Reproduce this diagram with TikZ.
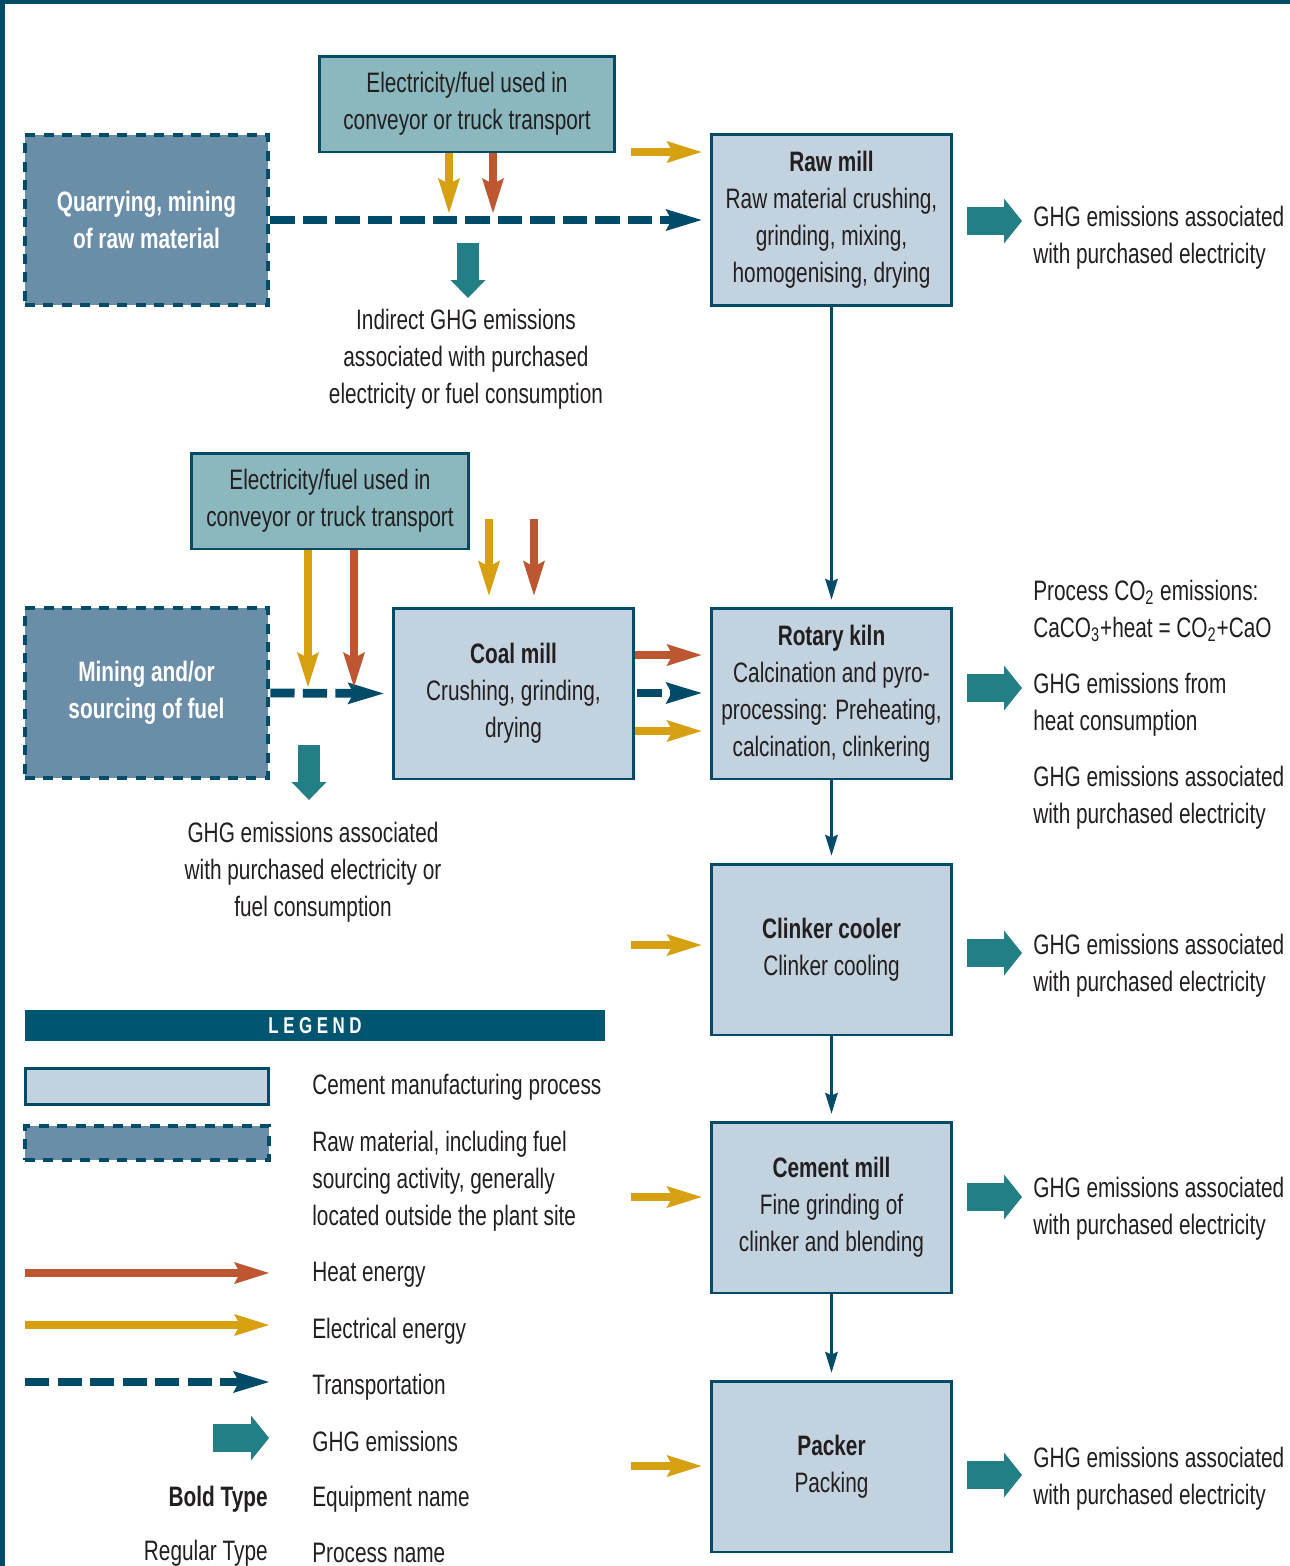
\documentclass[tikz,border=0pt]{standalone}
\usepackage{fontspec}
\setmainfont[FakeStretch=0.74]{Liberation Sans}
\usetikzlibrary{arrows.meta}

\definecolor{dkblue}{HTML}{004B68}
\definecolor{legblue}{HTML}{005570}
\definecolor{procfill}{HTML}{C2D2DF}
\definecolor{rawfill}{HTML}{6A8EA8}
\definecolor{fuelfill}{HTML}{8BB8BE}
\definecolor{ghgteal}{HTML}{227F85}
\definecolor{elecyel}{HTML}{D6A010}
\definecolor{heatred}{HTML}{BD5631}
\definecolor{txtdark}{HTML}{231F20}

\tikzset{
  procbox/.style={draw=dkblue, fill=procfill, line width=1.7pt, minimum width=4.82cm, minimum height=3.42cm, align=center, inner sep=0pt},
  rawbox/.style={draw=dkblue, fill=rawfill, line width=2.8pt, dash pattern=on 5.7pt off 4.8pt, minimum width=4.86cm, minimum height=3.4cm, align=center, inner sep=0pt, text=white, font={\fontsize{16}{21}\selectfont\bfseries}},
  fuelbox/.style={draw=dkblue, fill=fuelfill, line width=1.7pt, minimum height=1.92cm, align=center, inner sep=0pt},
  sidetxt/.style={anchor=west, align=left, inner sep=0pt},
  freetxt/.style={align=center, inner sep=0pt},
  heatarr/.style={draw=heatred, line width=4.8pt, -{Stealth[length=0.7cm, width=0.44cm, inset=0.12cm, line width=0pt]}},
  elecarr/.style={draw=elecyel, line width=4.8pt, -{Stealth[length=0.7cm, width=0.44cm, inset=0.12cm, line width=0pt]}},
  transarr/.style={draw=dkblue, line width=5pt, dash pattern=on 13.7pt off 4.8pt, -{Stealth[length=0.72cm, width=0.44cm, inset=0.12cm, line width=0pt]}},
  flowarr/.style={draw=dkblue, line width=1.2pt, -{Stealth[length=0.42cm, width=0.26cm, inset=0.06cm, line width=0pt]}},
  ghgarr/.style={draw=ghgteal, line width=0.56cm, -{Triangle[length=0.36cm, width=0.9cm, line width=0pt]}},
  ghgsmall/.style={draw=ghgteal, line width=0.44cm, -{Triangle[length=0.36cm, width=0.7cm, line width=0pt]}}
}

\begin{document}
\begin{tikzpicture}[x=0.02cm, y=-0.02cm, font=\fontsize{16}{21}\selectfont, text=txtdark]
\useasboundingbox (0,0) rectangle (1290,1566);
% frame
\draw[draw=dkblue, line width=2.8pt] (2.5,1566) -- (2.5,2) -- (1290,2);

% sourcing boxes
\node[rawbox] (quarry) at (146.5,220) {Quarrying, mining\\of raw material};
\node[rawbox] (mining) at (146.5,693) {Mining and/or\\sourcing of fuel};
\node[fuelbox, minimum width=5.92cm] (fuelA) at (467,104) {Electricity/fuel used in\\conveyor or truck transport};
\node[fuelbox, minimum width=5.56cm] (fuelB) at (330,501) {Electricity/fuel used in\\conveyor or truck transport};

% process boxes
\node[procbox] (rawmill) at (831.5,220) {\textbf{Raw mill}\\Raw material crushing,\\grinding, mixing,\\homogenising, drying};
\node[procbox] (coalmill) at (513.5,693.5) {\textbf{Coal mill}\\Crushing, grinding,\\drying};
\node[procbox] (kiln) at (831.5,693.5) {\textbf{Rotary kiln}\\Calcination and pyro-\\processing: Preheating,\\calcination, clinkering};
\node[procbox] (cooler) at (831.5,949.5) {\textbf{Clinker cooler}\\Clinker cooling};
\node[procbox] (cemmill) at (831.5,1207.5) {\textbf{Cement mill}\\Fine grinding of\\clinker and blending};
\node[procbox] (packer) at (831.5,1466.5) {\textbf{Packer}\\Packing};

% emission texts
\node[freetxt] (indA) at (466,359) {Indirect GHG emissions\\associated with purchased\\electricity or fuel consumption};
\node[freetxt] (indB) at (313,872) {GHG emissions associated\\with purchased electricity or\\fuel consumption};
\node[sidetxt] (ghgRaw) at (1033,238) {GHG emissions associated\\with purchased electricity};
\node[sidetxt] (procCO) at (1033,611) {Process CO\textsubscript{2} emissions:\\CaCO\textsubscript{3}+heat = CO\textsubscript{2}+CaO};
\node[sidetxt] (ghgKiln) at (1033,705) {GHG emissions from\\heat consumption};
\node[sidetxt] (ghgKilnE) at (1033,798) {GHG emissions associated\\with purchased electricity};
\node[sidetxt] (ghgCool) at (1033,966) {GHG emissions associated\\with purchased electricity};
\node[sidetxt] (ghgCem) at (1033,1209) {GHG emissions associated\\with purchased electricity};
\node[sidetxt] (ghgPack) at (1033,1479) {GHG emissions associated\\with purchased electricity};

% raw material line
\coordinate (qel) at (449,213);
\coordinate (qht) at (493,213);
\coordinate (rmel) at (631,152);
\coordinate (indtop) at (468,243);
\coordinate (indbot) at (468,298);
\draw[transarr, shorten >=0.16cm] (quarry.east) -- (rawmill.west);
\draw[elecarr] (fuelA.south -| qel) -- (qel);
\draw[heatarr] (fuelA.south -| qht) -- (qht);
\draw[elecarr, shorten >=0.16cm] (rmel) -- (rmel -| rawmill.west);
\draw[ghgsmall] (indtop) -- (indbot);

% fuel line
\coordinate (mel) at (308,687);
\coordinate (mht) at (354,687);
\coordinate (cmel) at (489,519);
\coordinate (cmht) at (534,519);
\coordinate (fueltop) at (309,745);
\coordinate (fuelbot) at (309,800);
\draw[transarr, shorten >=0.16cm] (mining.east) -- (coalmill.west);
\draw[elecarr] (fuelB.south -| mel) -- (mel);
\draw[heatarr] (fuelB.south -| mht) -- (mht);
\draw[elecarr, shorten >=0.22cm] (cmel) -- (cmel |- coalmill.north);
\draw[heatarr, shorten >=0.22cm] (cmht) -- (cmht |- coalmill.north);
\draw[ghgsmall] (fueltop) -- (fuelbot);

% coal mill to kiln
\coordinate (lvheat) at (0,655);
\coordinate (lvtrans) at (0,693);
\coordinate (lvelec) at (0,731);
\draw[heatarr, shorten >=0.16cm] (coalmill.east |- lvheat) -- (kiln.west |- lvheat);
\draw[transarr, shorten <=0.04cm, shorten >=0.16cm] (coalmill.east |- lvtrans) -- (kiln.west |- lvtrans);
\draw[elecarr, shorten >=0.16cm] (coalmill.east |- lvelec) -- (kiln.west |- lvelec);

% main flow
\foreach \a/\b in {rawmill/kiln, kiln/cooler, cooler/cemmill, cemmill/packer}
  \draw[flowarr, shorten >=0.14cm] (\a) -- (\b);

% electricity in
\foreach \b/\y in {cooler/945, cemmill/1197, packer/1466}{
  \coordinate (lv) at (631,\y);
  \draw[elecarr, shorten >=0.16cm] (lv) -- (lv -| \b.west);
}

% GHG out
\foreach \b/\t/\y in {rawmill/ghgRaw/221, kiln/ghgKiln/688, cooler/ghgCool/953, cemmill/ghgCem/1197, packer/ghgPack/1475}{
  \coordinate (lv) at (0,\y);
  \draw[ghgarr, shorten <=0.28cm, shorten >=0.22cm] (\b.east |- lv) -- (\t.west |- lv);
}

% legend
\node[fill=legblue, minimum width=11.6cm, minimum height=0.62cm, inner sep=0pt, text=white] (legbar) at (315,1025.5) {\fontsize{13}{13}\selectfont\bfseries\addfontfeature{LetterSpace=20}LEGEND};
\node[procbox, minimum width=4.88cm, minimum height=0.72cm] (legproc) at (147,1086) {};
\node[rawbox, minimum width=4.88cm, minimum height=0.68cm] (legraw) at (147,1143) {};
\node[sidetxt] (legprocT) at (312,1087) {Cement manufacturing process};
\node[sidetxt] (legrawT) at (312,1181) {Raw material, including fuel\\sourcing activity, generally\\located outside the plant site};
\node[sidetxt] (legheatT) at (312,1275) {Heat energy};
\node[sidetxt] (legelecT) at (312,1331) {Electrical energy};
\node[sidetxt] (legtransT) at (312,1387) {Transportation};
\node[sidetxt] (legghgT) at (312,1441) {GHG emissions};
\node[sidetxt] (legeqT) at (312,1499) {Equipment name};
\node[sidetxt] (legprT) at (312,1553) {Process name};
\node[anchor=east, inner sep=0pt] (legbold) at (268,1499) {\textbf{Bold Type}};
\node[anchor=east, inner sep=0pt] (legreg) at (268,1553) {Regular Type};

\coordinate (lh0) at (25,1273);
\coordinate (lh1) at (269,1273);
\coordinate (le0) at (25,1325);
\coordinate (le1) at (269,1325);
\coordinate (lt0) at (25,1382);
\coordinate (lt1) at (269,1382);
\coordinate (lg0) at (213,1438);
\coordinate (lg1) at (269,1438);
\draw[heatarr] (lh0) -- (lh1);
\draw[elecarr] (le0) -- (le1);
\draw[transarr] (lt0) -- (lt1);
\draw[ghgarr] (lg0) -- (lg1);
\end{tikzpicture}
\end{document}
